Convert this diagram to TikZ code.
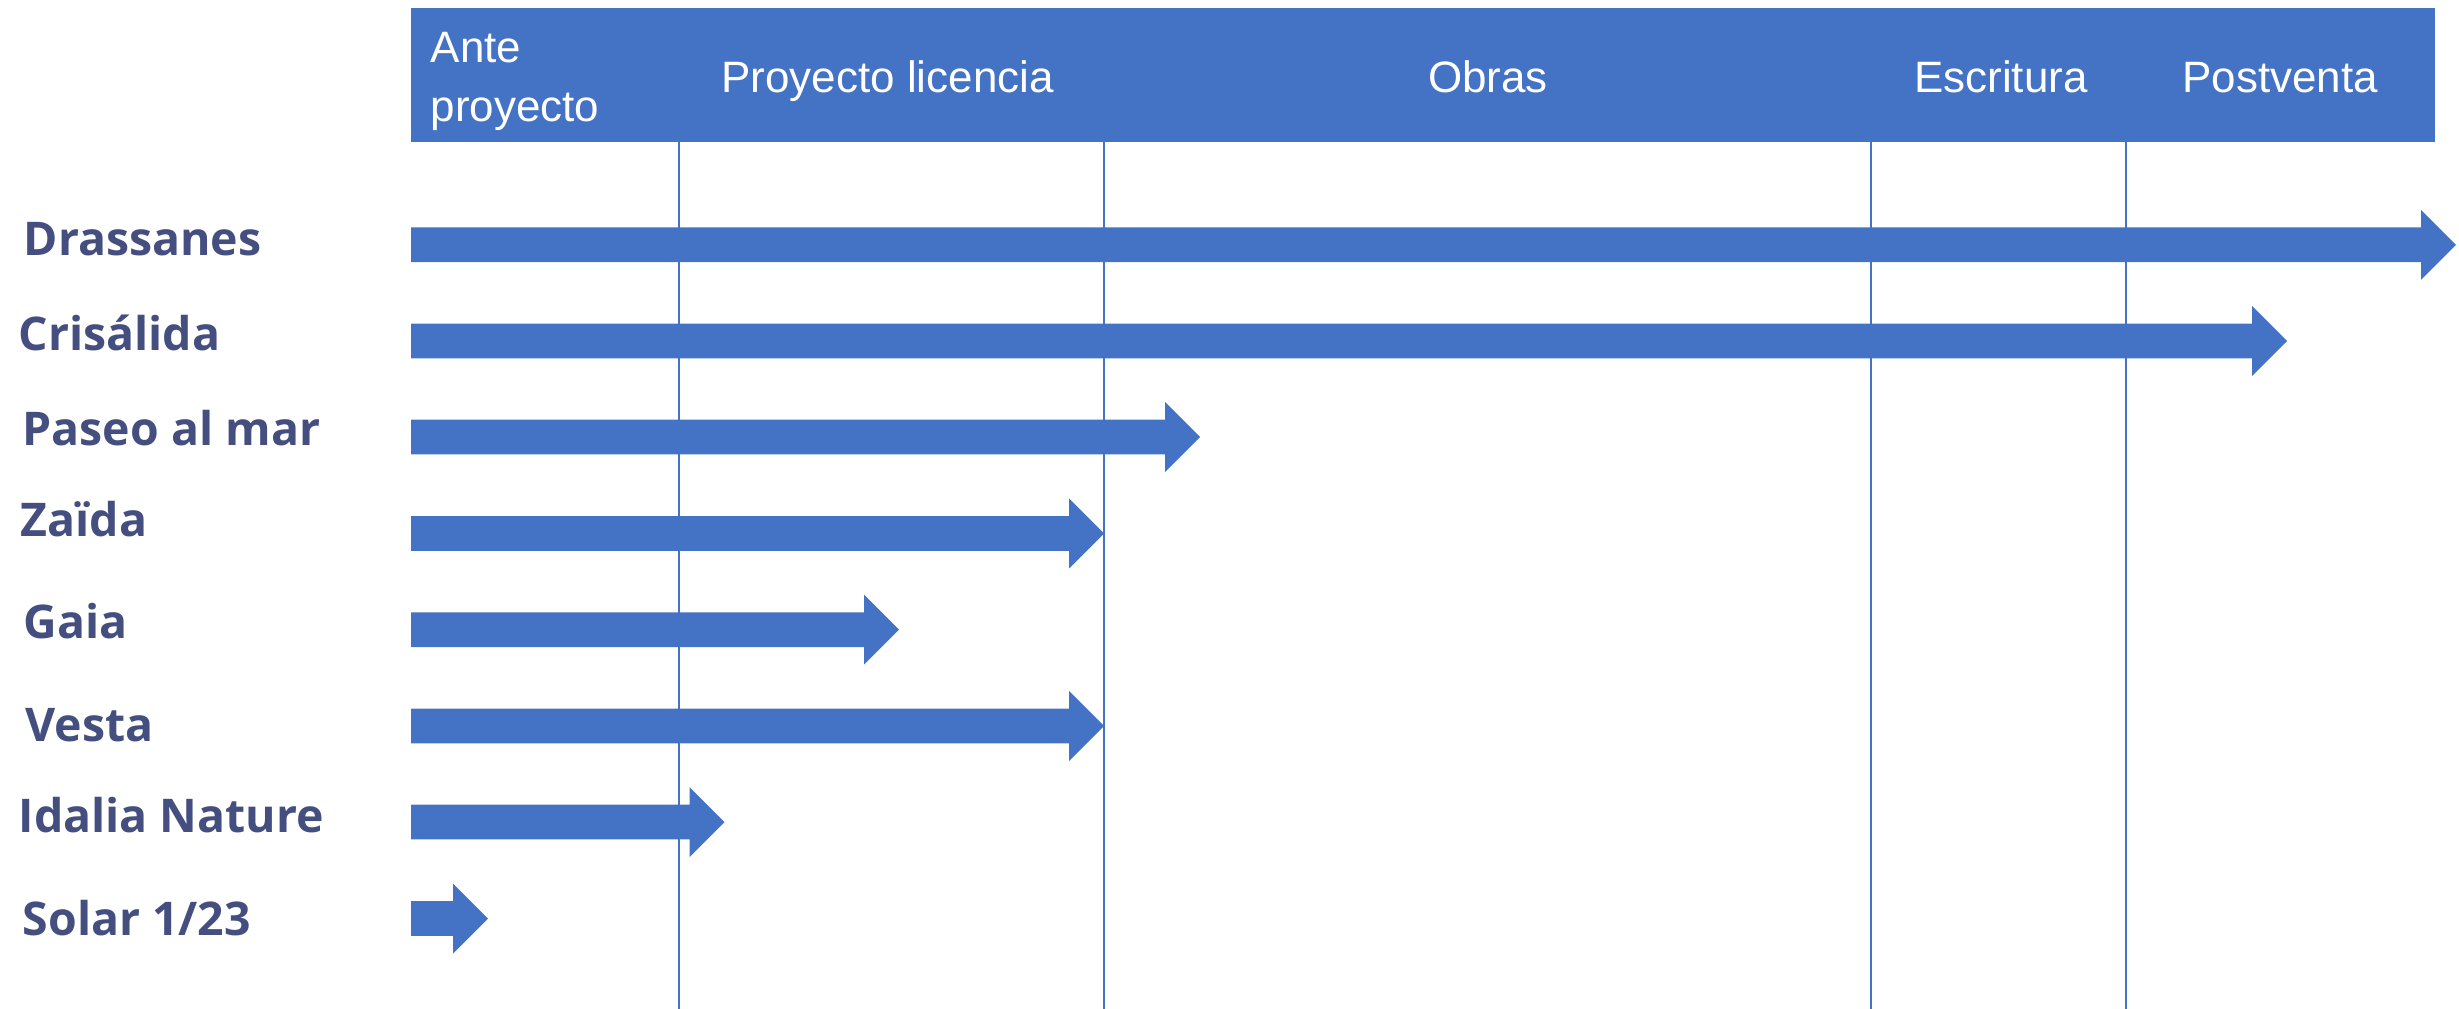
\documentclass[tikz,border=0pt]{standalone}
\usepackage{fontspec}
\setmainfont{Liberation Sans}
\newfontfamily\lblfont{Open Sans}
\definecolor{barblue}{HTML}{4472C4}
\definecolor{labelblue}{RGB}{68,79,128}
\begin{document}
\begin{tikzpicture}[x=0.01cm,y=-0.01cm,
  barshape/.style={fill=barblue,draw=none},
  phase/.style={anchor=base,text=white,inner sep=0pt,font=\fontsize{12.5}{16.6}\selectfont},
  rowlabel/.style={anchor=base west,text=labelblue,inner sep=0pt,font=\lblfont\bfseries\fontsize{13.2}{15}\selectfont},
  gridline/.style={draw=barblue,line width=0.6pt}]
\useasboundingbox (0,0) rectangle (2459,1009);
% header band
\path[barshape] (411,8) rectangle (2435,142);
% vertical phase separators
\foreach \gx/\gn in {679/g1,1104/g2,1871/g3,2126/g4}{
  \coordinate (\gn top) at (\gx,142);
  \coordinate (\gn bot) at (\gx,1009);
  \draw[gridline] (\gn top) -- (\gn bot);
}
% phase titles
\node[phase,anchor=north west,align=left] (ph0) at (430,31.8) {Ante\\proyecto};
\node[phase] (ph1) at (887.6,92.7) {Proyecto licencia};
\node[phase] (ph2) at (1488,92.7) {Obras};
\node[phase] (ph3) at (2001,92.7) {Escritura};
\node[phase] (ph4) at (2280,92.7) {Postventa};
% bars
\foreach \tip/\yy in {2456/244.8,2287/341,1200/437,1104/533.5,899/629.7,1104/726,724.5/822,488/918.5}{
  \path[barshape] (411,\yy-17.4) -- (\tip-35,\yy-17.4) -- (\tip-35,\yy-35) -- (\tip,\yy)
     -- (\tip-35,\yy+35) -- (\tip-35,\yy+17.4) -- (411,\yy+17.4) -- cycle;
}
% row labels
\node[rowlabel] (r1) at (23,255) {Drassanes};
\node[rowlabel] (r2) at (18,350.2) {Crisálida};
\node[rowlabel] (r3) at (22,445) {Paseo al mar};
\node[rowlabel] (r4) at (20,536.7) {Zaïda};
\node[rowlabel] (r5) at (23,638.3) {Gaia};
\node[rowlabel] (r6) at (25,741) {Vesta};
\node[rowlabel] (r7) at (18,832.7) {Idalia Nature};
\node[rowlabel] (r8) at (22,935.3) {Solar 1/23};
\end{tikzpicture}
\end{document}
